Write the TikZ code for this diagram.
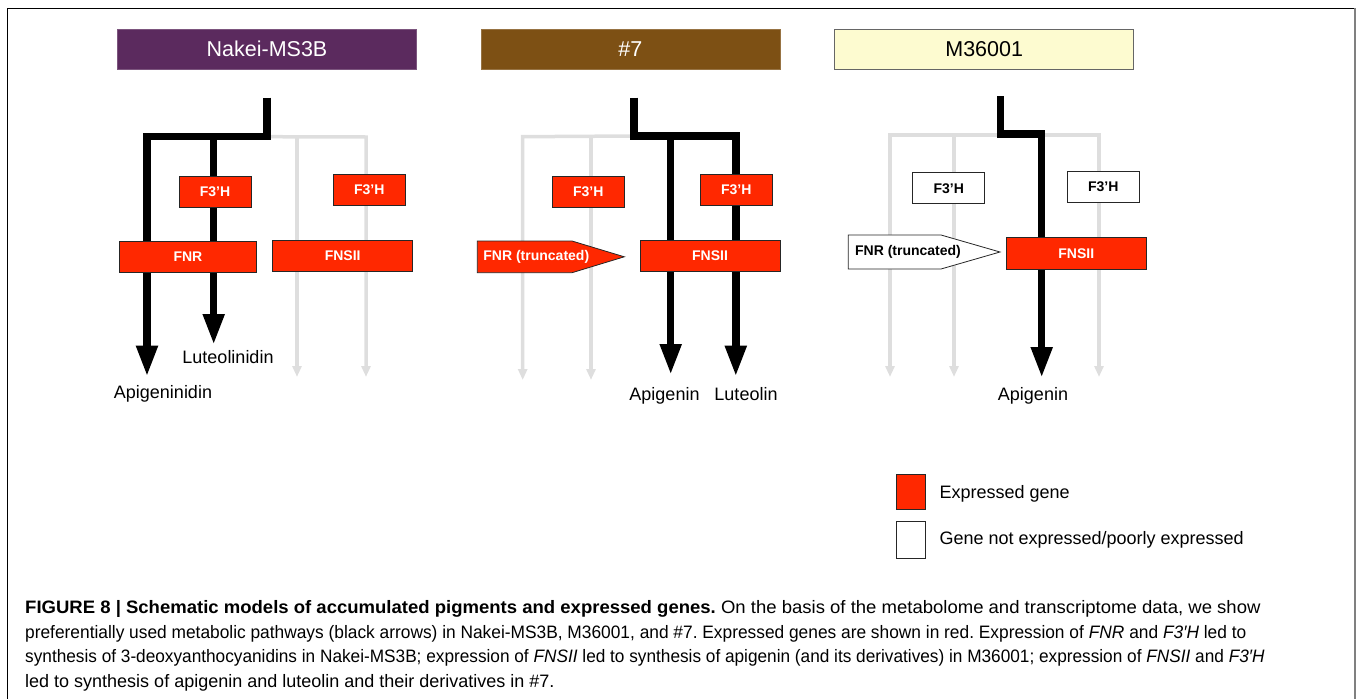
\documentclass[tikz,border=0pt]{standalone}
\usepackage{fontspec}
\usepackage{graphicx}
\setmainfont{Liberation Sans}
\usetikzlibrary{arrows.meta}
\definecolor{GeneRed}{RGB}{255,40,0}
\definecolor{OffGray}{RGB}{222,222,222}
\definecolor{NakeiPurple}{RGB}{91,42,94}
\definecolor{SevenBrown}{RGB}{125,80,20}
\definecolor{MYellow}{RGB}{253,251,208}
\tikzstyle{Path} = [
line width=7.5pt,
line join=miter,
-{Triangle[width=20pt,length=31pt]}
]
\tikzstyle{Off} = [
line width=3.5pt,
color=OffGray,
line join=miter,
-{Triangle[width=9pt,length=11pt]}
]
\tikzstyle{Gene} = [
draw=black!85, line width=0.8pt, fill=GeneRed, text=white,
inner sep=0pt, minimum width=72pt, minimum height=31pt,
font=\fontsize{14}{16}\selectfont\bfseries
]
\tikzstyle{NoGene} = [Gene, fill=white, text=black]
\tikzstyle{Trunc} = [draw=black!85, line width=0.8pt]
\tikzstyle{Head} = [
draw=black!60, line width=0.6pt, inner sep=0pt,
minimum width=299pt, minimum height=40pt,
font=\fontsize{21.5}{24}\selectfont
]
\tikzstyle{Product} = [inner sep=0pt, anchor=base, font=\fontsize{18}{20}\selectfont]

\begin{document}
\frenchspacing
\begin{tikzpicture}[x=1pt,y=-1pt]
   \useasboundingbox (0,0) rectangle (1358,699);
   \draw[line width=1.3pt] (7.3,699) -- (7.3,8.3) -- (1355,8.3);
   \draw[line width=2pt, gray] (1355,8.3) -- (1355,699);

   \node[Head, fill=NakeiPurple, draw=NakeiPurple!80, text=white] (h-nakei) at (267,49.3) {Nakei-MS3B};
   \node[Head, fill=SevenBrown, draw=SevenBrown!80, text=white] (h-seven) at (630.3,49.3) {\#7};
   \node[Head, fill=MYellow, text=black] (h-m36) at (984.2,49.3) {M36001};

   \coordinate (n-src) at (267,97.5);
   \coordinate (n-bend) at (267,136.7);
   \coordinate (n-left) at (147,136.7);
   \coordinate (n-mid) at (213.7,136.7);
   \coordinate (n-tipa) at (147,376.7);
   \coordinate (n-tipl) at (213.7,345);
   \coordinate (s-src) at (634,97.5);
   \coordinate (s-bend) at (634,136);
   \coordinate (s-right) at (735.8,136);
   \coordinate (s-mid) at (670.7,136);
   \coordinate (s-tipa) at (670.7,375);
   \coordinate (s-tipl) at (735.8,376.7);
   \coordinate (m-src) at (1000.3,96);
   \coordinate (m-bend) at (1000.3,134);
   \coordinate (m-right) at (1041.7,134);
   \coordinate (m-tipa) at (1041.7,378);

   \draw[Off] (n-bend) -- (366,137) -- (366,377);
   \draw[Off] (297,137) -- (297,377);
   \draw[Off] (s-bend) -- (522.7,136.7) -- (522.7,380);
   \draw[Off] (591,136.7) -- (591,380);
   \draw[Off] (954,135) -- (890,135) -- (890,377);
   \draw[Off] (954,135) -- (954,377);
   \draw[Off] (954,135) -- (1099,135) -- (1099,377);

   \draw[Path] (n-src) -- (n-bend) -- (n-left) -- (n-tipa);
   \draw[Path] (n-mid) -- (n-tipl);
   \draw[Path] (s-src) -- (s-bend) -- (s-right) -- (s-tipl);
   \draw[Path] (s-mid) -- (s-tipa);
   \draw[Path] (m-src) -- (m-bend) -- (m-right) -- (m-tipa);

   \node[Gene] (n-f3h) at (215,191.5) {F3’H};
   \node[Gene] (n-f3h2) at (369.3,189.8) {F3’H};
   \node[Gene, minimum width=137.7pt] (n-fnr) at (187.9,256.7) {FNR};
   \node[Gene, minimum width=140pt] (n-fns) at (342.7,256) {FNSII};

   \node[Gene] (s-f3h) at (588.3,191.5) {F3’H};
   \node[Gene] (s-f3h2) at (736.2,190) {F3’H};
   \draw[Trunc, fill=GeneRed] (477.3,241) -- (572,241) -- (624.3,256.8) -- (572,272.7) -- (477.3,272.7) -- cycle;
   \node[Gene, draw=none, fill=none, minimum width=0pt] (s-fnr) at (536.3,256.8) {FNR (truncated)};
   \node[Gene, minimum width=140pt] (s-fns) at (710,256) {FNSII};

   \node[NoGene] (m-f3h) at (948.7,188.3) {F3’H};
   \node[NoGene] (m-f3h2) at (1103.3,186.8) {F3’H};
   \draw[Trunc, fill=white] (848.3,235) -- (941,235) -- (1000,252) -- (941,269) -- (848.3,269) -- cycle;
   \node[NoGene, draw=none, fill=none, minimum width=0pt] (m-fnr) at (908,252) {FNR (truncated)};
   \node[Gene, minimum width=139.3pt, minimum height=31.7pt] (m-fns) at (1076.3,253.2) {FNSII};

   \node[Product] (n-api) at (163,398) {Apigeninidin};
   \node[Product] (n-lut) at (228,363.3) {Luteolinidin};
   \node[Product] (s-api) at (664.5,400) {Apigenin};
   \node[Product] (s-lut) at (746,400) {Luteolin};
   \node[Product] (m-api) at (1033,400) {Apigenin};

   \node[Gene, minimum width=29pt, minimum height=35pt] (key-on) at (911.2,491.7) {};
   \node[NoGene, minimum width=29pt, minimum height=36.5pt] (key-off) at (911.2,540) {};
   \node[Product, anchor=base west] (key-on-text) at (939.3,498.3) {Expressed gene};
   \node[Product, anchor=base west] (key-off-text) at (939.3,544) {Gene not expressed/poorly expressed};

   \node[anchor=north west, inner sep=0pt, align=left, font=\fontsize{18}{24.5}\selectfont] (caption) at (25,600.5) {\scalebox{1.029}[1]{\textbf{FIGURE 8 | Schematic models of accumulated pigments and expressed genes.} On the basis of the metabolome and transcriptome data, we show}\\
\scalebox{0.963}[1]{preferentially used metabolic pathways (black arrows) in Nakei-MS3B, M36001, and \#7. Expressed genes are shown in red. Expression of \textit{FNR} and \textit{F3′H} led to}\\
\scalebox{0.957}[1]{synthesis of 3-deoxyanthocyanidins in Nakei-MS3B; expression of \textit{FNSII} led to synthesis of apigenin (and its derivatives) in M36001; expression of \textit{FNSII} and \textit{F3′H}}\\
led to synthesis of apigenin and luteolin and their derivatives in \#7.};
\end{tikzpicture}
\end{document}
